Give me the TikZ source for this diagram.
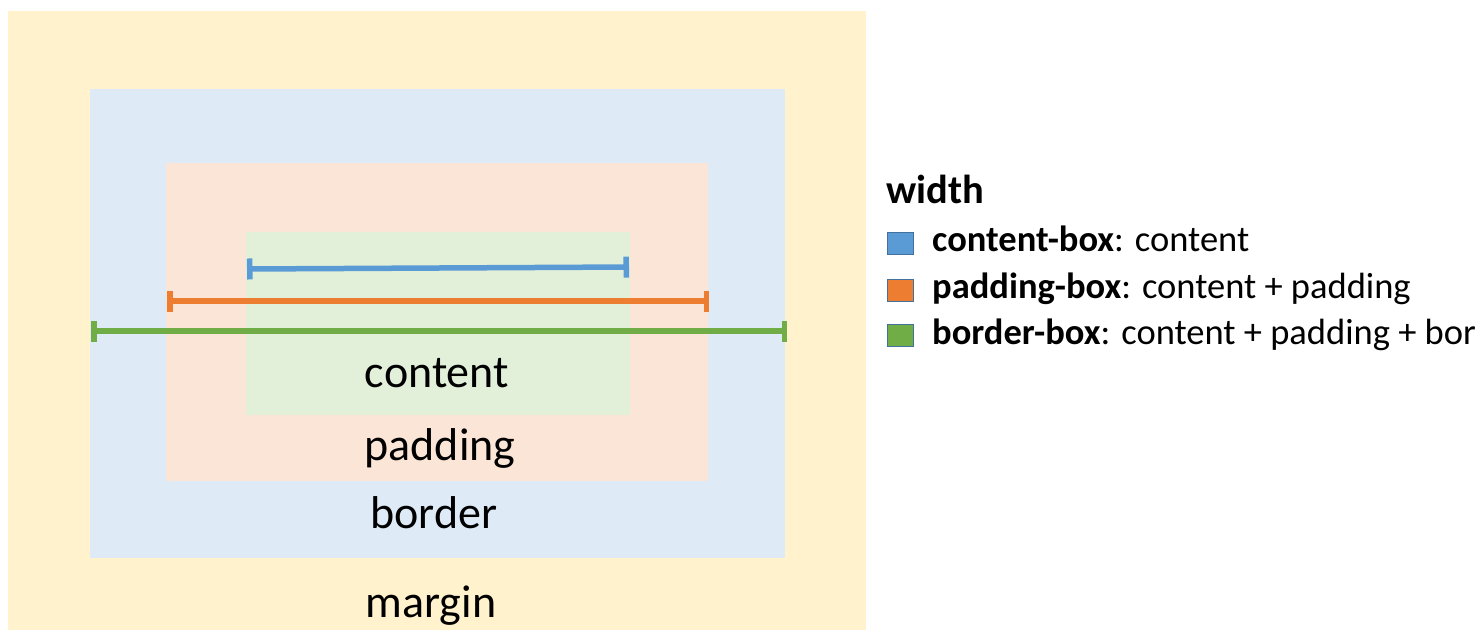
\documentclass[tikz,border=0pt]{standalone}
\usepackage{fontspec}
\setmainfont{Carlito}
\usetikzlibrary{arrows.meta}
\definecolor{marginc}{HTML}{FFF2CC}
\definecolor{borderc}{HTML}{DEEBF7}
\definecolor{paddingc}{HTML}{FBE5D6}
\definecolor{contentc}{HTML}{E2F0D9}
\definecolor{blueline}{HTML}{5B9BD5}
\definecolor{orangeline}{HTML}{ED7D31}
\definecolor{greenline}{HTML}{70AD47}
\definecolor{outlinec}{HTML}{41719C}
\tikzset{
  boxlabel/.style={anchor=base,inner sep=0pt,font=\fontsize{46}{55}\selectfont},
  legtext/.style={anchor=base west,inner sep=0pt,font=\fontsize{36.5}{44}\selectfont},
  legsq/.style={draw=outlinec,line width=1.5pt},
  measure/.style={line width=5.5pt,{Bar[width=21pt]}-{Bar[width=21pt]}},
}
\begin{document}
\begin{tikzpicture}[x=1pt,y=-1pt]
\useasboundingbox (0,0) rectangle (1475,630);
\clip (0,0) rectangle (1475,630);
\fill[marginc] (8,11) rectangle (866,630);
\fill[borderc] (90,89) rectangle (785,558);
\fill[paddingc] (166,163) rectangle (708,481);
\fill[contentc] (246,232) rectangle (630,415);
\coordinate (b1) at (247,269);
\coordinate (b2) at (629,267);
\coordinate (o1) at (167,301);
\coordinate (o2) at (709,301);
\coordinate (g1) at (91,331);
\coordinate (g2) at (787,331);
\draw[measure,blueline] (b1) -- (b2);
\draw[measure,orangeline] (o1) -- (o2);
\draw[measure,greenline] (g1) -- (g2);
\node[boxlabel] (lc) at (437,387) {content};
\node[boxlabel] (lp) at (440,460) {padding};
\node[boxlabel] (lb) at (434,528) {border};
\node[boxlabel] (lm) at (431,617) {margin};
\node[anchor=base west,inner sep=0pt,font=\fontsize{40.5}{48}\selectfont\bfseries] (w) at (886,203) {width};
\fill[blueline,legsq] (887.5,232.5) rectangle (913.5,254.5);
\fill[orangeline,legsq] (887.5,279.5) rectangle (913.5,301.5);
\fill[greenline,legsq] (887.5,324.5) rectangle (913.5,346.5);
\node[legtext] (t1) at (932,251) {\textbf{content-box}: content};
\node[legtext] (t2) at (932,298) {\textbf{padding-box}: content + padding};
\node[legtext] (t3) at (932,344) {\textbf{border-box}: content + padding + border};
\end{tikzpicture}
\end{document}
